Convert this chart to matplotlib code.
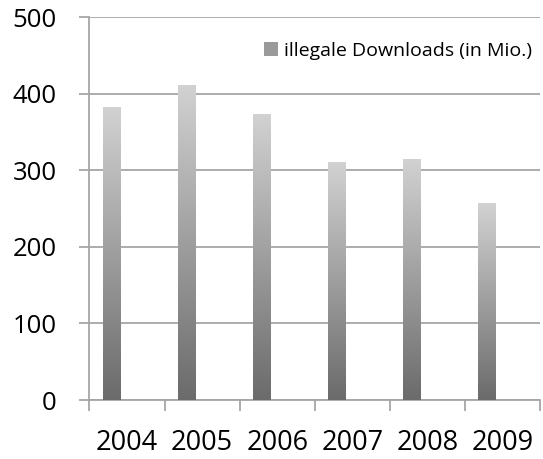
import numpy as np
import matplotlib.pyplot as plt
from matplotlib.patches import Patch

plt.rcParams['font.family'] = ['Open Sans', 'DejaVu Sans']

jahre = ["2004", "2005", "2006", "2007", "2008", "2009"]
downloads = [383, 412, 374, 311, 315, 257]
legende = "illegale Downloads (in Mio.)"

fig = plt.figure(figsize=(5.43, 4.59), dpi=100)
ax = fig.add_axes([0.1648, 0.1285, 0.83, 0.8338])

x = np.arange(len(jahre))
breite = 0.23
versatz = -0.21

# gradient: dark at bottom, light at top
grad = np.linspace(0, 1, 256).reshape(-1, 1)
cmap = plt.matplotlib.colors.LinearSegmentedColormap.from_list("g", ["#6b6b6b", "#d2d2d2"])

balken = ax.bar(x + versatz, downloads, breite, color="none", zorder=3)
for b in balken:
    x0, y0 = b.get_x(), b.get_y()
    w, h = b.get_width(), b.get_height()
    im = ax.imshow(grad, cmap=cmap, origin="lower", aspect="auto",
                   extent=(x0, x0 + w, y0, y0 + h), zorder=3)
    im.set_clip_path(b)

ax.set_xlim(-0.5, len(jahre) - 0.5)
ax.set_ylim(0, 500)
ax.set_yticks(range(0, 501, 100))
ax.set_xticks(x)
ax.set_xticklabels(jahre)
ax.set_xticks(np.arange(-0.5, len(jahre), 1), minor=True)

ax.grid(axis="y", color="#a6a6a6", linewidth=1.3, zorder=0)
for s in ["top", "right"]:
    ax.spines[s].set_visible(False)
for s in ["left", "bottom"]:
    ax.spines[s].set_color("#a6a6a6")
    ax.spines[s].set_linewidth(1.3)

ax.tick_params(axis="y", length=7.5, width=1.3, color="#a6a6a6", labelsize=18.5, pad=16)
ax.tick_params(axis="x", which="major", length=0, labelsize=19.5, pad=21)
ax.tick_params(axis="x", which="minor", length=8, width=1.3, color="#a6a6a6")

handle = Patch(facecolor="#9a9a9a", edgecolor="none")
ax.legend([handle], [legende], loc="center right", bbox_to_anchor=(1.0, 0.912),
          frameon=False, fontsize=14, handlelength=0.7, handleheight=0.7,
          handletextpad=0.35, borderaxespad=0)

fig.savefig("out.png", dpi=100)
